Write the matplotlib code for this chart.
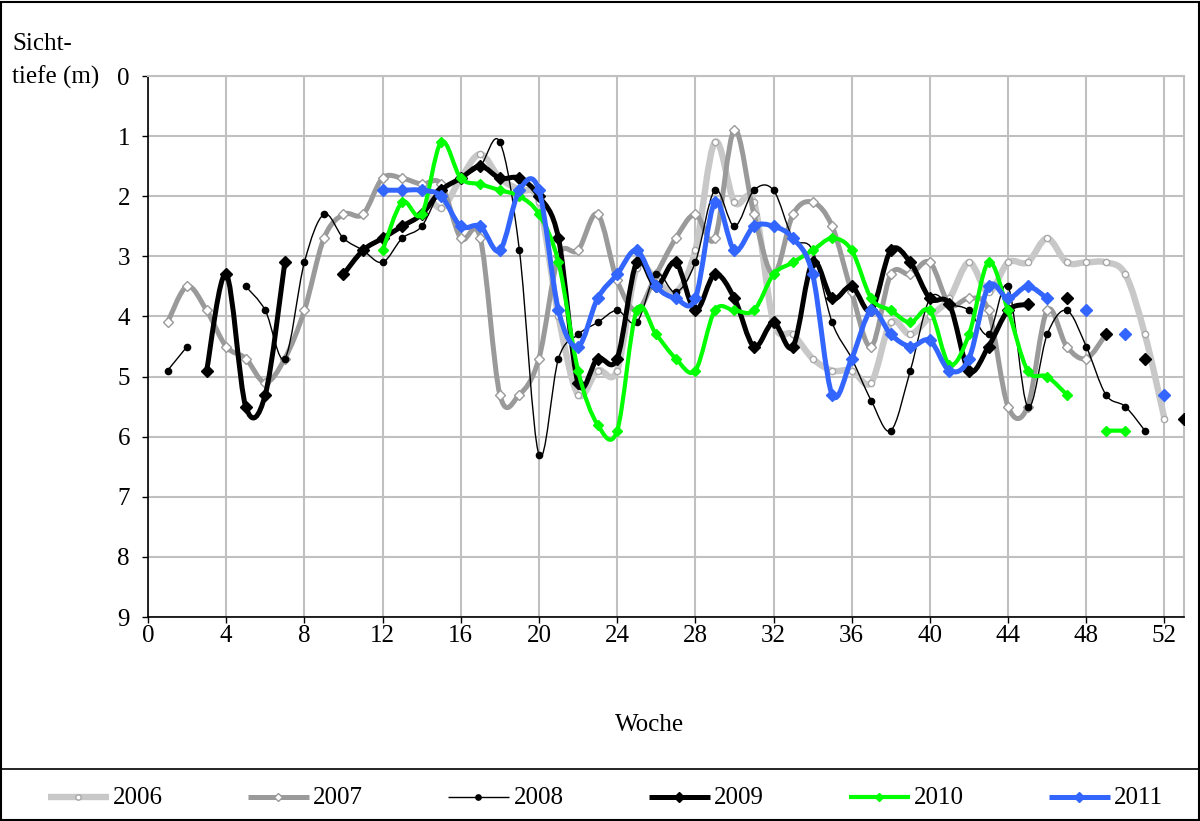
import numpy as np
import matplotlib
matplotlib.use("Agg")
import matplotlib.pyplot as plt
from matplotlib.path import Path
from matplotlib.patches import PathPatch, Rectangle
from matplotlib.lines import Line2D

N = None
weeks = list(range(1, 54))

# Sichttiefe (m) per week 1..53, None = no measurement
d2006 = [N, N, N, N, N, N, N, N, N, N, N, N, N, 1.8, 2.2, 1.7, 1.3, 1.7, 1.9, 2.1,
         4.0, 5.3, 4.9, 4.9, 3.2, 3.4, 3.6, 2.9, 1.1, 2.1, 2.1, 4.1, 4.3, 4.7, 4.9, 4.9,
         5.1, 4.1, 4.3, 4.0, 3.7, 3.1, 3.6, 3.1, 3.1, 2.7, 3.1, 3.1, 3.1, 3.3, 4.3, 5.7, N]
d2007 = [4.1, 3.5, 3.9, 4.5, 4.7, 5.1, 4.7, 3.9, 2.7, 2.3, 2.3, 1.7, 1.7, 1.8, 1.8, 2.7,
         2.7, 5.3, 5.3, 4.7, 3.0, 2.9, 2.3, 3.4, 3.9, 3.3, 2.7, 2.3, 2.7, 0.9, 2.3, 3.3,
         2.3, 2.1, 2.5, 3.6, 4.5, 3.3, 3.3, 3.1, 3.8, 3.7, 3.9, 5.5, 5.5, 3.9, 4.5, 4.7,
         4.3, N, N, N, N]
d2008 = [4.9, 4.5, N, N, 3.5, 3.9, 4.7, 3.1, 2.3, 2.7, 2.9, 3.1, 2.7, 2.5, 1.9, 1.7,
         1.5, 1.1, 2.9, 6.3, 4.7, 4.3, 4.1, 3.9, 4.1, 3.3, 3.6, 3.1, 1.9, 2.5, 1.9, 1.9,
         2.7, 2.9, 4.1, 4.7, 5.4, 5.9, 4.9, 3.7, 3.8, 3.9, 4.3, 3.5, 5.5, 4.3, 3.9, 4.5,
         5.3, 5.5, 5.9, N, N]
d2009 = [N, N, 4.9, 3.3, 5.5, 5.3, 3.1, N, N, 3.3, 2.9, 2.7, 2.5, 2.3, 1.9, 1.7,
         1.5, 1.7, 1.7, 2.0, 2.7, 5.1, 4.7, 4.7, 3.1, 3.5, 3.1, 3.9, 3.3, 3.7, 4.5, 4.1,
         4.5, 3.1, 3.7, 3.5, 3.9, 2.9, 3.1, 3.7, 3.8, 4.9, 4.5, 3.9, 3.8, N, 3.7, N,
         4.3, N, 4.7, N, 5.7]
d2010 = [N, N, N, N, N, N, N, N, N, N, N, 2.9, 2.1, 2.3, 1.1, 1.7, 1.8, 1.9, 2.0, 2.3,
         3.1, 4.9, 5.8, 5.9, 3.9, 4.3, 4.7, 4.9, 3.9, 3.9, 3.9, 3.3, 3.1, 2.9, 2.7, 2.9,
         3.7, 3.9, 4.1, 3.9, 4.8, 4.3, 3.1, 3.9, 4.9, 5.0, 5.3, N, 5.9, 5.9, N, N, N]
d2011 = [N, N, N, N, N, N, N, N, N, N, N, 1.9, 1.9, 1.9, 2.0, 2.5, 2.5, 2.9, 1.9, 1.9,
         3.9, 4.5, 3.7, 3.3, 2.9, 3.5, 3.7, 3.7, 2.1, 2.9, 2.5, 2.5, 2.7, 3.3, 5.3, 4.7,
         3.9, 4.3, 4.5, 4.4, 4.9, 4.7, 3.5, 3.7, 3.5, 3.7, N, 3.9, N, 4.3, N, 5.3, N]

years = ["2006", "2007", "2008", "2009", "2010", "2011"]
series = [d2006, d2007, d2008, d2009, d2010, d2011]

styles = {
    "2006": dict(color="#c8c8c8", lw=4.6, marker="o", ms=4.5, mfc="white", mec="#a8a8a8", mew=1.0),
    "2007": dict(color="#9a9a9a", lw=3.6, marker="D", ms=5.0, mfc="white", mec="#9a9a9a", mew=1.0),
    "2008": dict(color="black", lw=1.0, marker="o", ms=4.5, mfc="black", mec="black", mew=1.0),
    "2009": dict(color="black", lw=3.6, marker="D", ms=6.0, mfc="black", mec="black", mew=1.0),
    "2010": dict(color="#00ff00", lw=3.0, marker="D", ms=5.0, mfc="#00ff00", mec="#00ff00", mew=1.0),
    "2011": dict(color="#3366ff", lw=3.6, marker="D", ms=6.0, mfc="#3366ff", mec="#3366ff", mew=1.0),
}


def runs(xs, ys):
    # split into connected pieces at missing weeks
    out, cur = [], []
    for x, y in zip(xs, ys):
        if y is None:
            if cur:
                out.append(cur)
            cur = []
        else:
            cur.append((x, y))
    if cur:
        out.append(cur)
    return out


def smooth_path(pts):
    # Excel-like smoothed line: cubic bezier, catmull-rom control points
    p = np.array(pts, dtype=float)
    n = len(p)
    verts = [p[0]]
    codes = [Path.MOVETO]
    for i in range(n - 1):
        p0 = p[i - 1] if i > 0 else p[i]
        p3 = p[i + 2] if i + 2 < n else p[i + 1]
        c1 = p[i] + (p[i + 1] - p0) / 6.0
        c2 = p[i + 1] - (p3 - p[i]) / 6.0
        verts += [c1, c2, p[i + 1]]
        codes += [Path.CURVE4] * 3
    return Path(verts, codes)


plt.rcParams["font.family"] = ["Liberation Serif", "DejaVu Serif"]
fig = plt.figure(figsize=(12, 8.21), dpi=100)
ax = fig.add_axes([148 / 1200, 1 - 617 / 821, (1184 - 148) / 1200, (617 - 76) / 821])

for k, (yr, vals) in enumerate(zip(years, series)):
    st = styles[yr]
    for piece in runs(weeks, vals):
        if len(piece) > 1:
            patch = PathPatch(smooth_path(piece), fill=False, edgecolor=st["color"],
                              lw=st["lw"], capstyle="round", joinstyle="round",
                              zorder=3 + k)
            ax.add_patch(patch)
        xs = [q[0] for q in piece]
        ys = [q[1] for q in piece]
        ax.plot(xs, ys, linestyle="none", marker=st["marker"], ms=st["ms"],
                mfc=st["mfc"], mec=st["mec"], mew=st["mew"], zorder=3.5 + k)

ax.set_xlim(0, 53)
ax.set_ylim(9, 0)
ax.set_xticks(range(0, 53, 4))
ax.set_yticks(range(0, 10))
ax.tick_params(axis="both", labelsize=18, direction="out", width=1, color="black")
ax.tick_params(axis="x", length=4, pad=2)
ax.tick_params(axis="y", length=4, pad=9)
ax.grid(True, color="#c0c0c0", lw=1.5)
ax.set_axisbelow(True)
for side in ["top", "right"]:
    ax.spines[side].set_color("#c0c0c0")
    ax.spines[side].set_linewidth(1.5)
for side in ["left", "bottom"]:
    ax.spines[side].set_color("black")
    ax.spines[side].set_linewidth(1.2)

fig.text(12 / 1200, 1 - 44 / 821, "Sicht-", fontsize=18, va="center", ha="left")
fig.text(12 / 1200, 1 - 77 / 821, "tiefe (m)", fontsize=18, va="center", ha="left")
fig.text(650 / 1200, 1 - 725 / 821, "Woche", fontsize=18, va="center", ha="center")

# outer frame and legend separator
fig.patches.append(Rectangle((0.001, 0.001), 0.998, 0.997, transform=fig.transFigure,
                             fill=False, edgecolor="black", lw=1.5))
fig.add_artist(Line2D([0, 1], [1 - 769 / 821] * 2, transform=fig.transFigure,
                      color="black", lw=1.2))

# legend entries laid out like the Excel legend row
ly = 1 - 797 / 821
for i, yr in enumerate(years):
    st = styles[yr]
    x0 = 48 + 200.2 * i
    fig.add_artist(Line2D([x0 / 1200, (x0 + 61) / 1200], [ly, ly], transform=fig.transFigure,
                          color=st["color"], lw=st["lw"], solid_capstyle="butt"))
    fig.add_artist(Line2D([(x0 + 30) / 1200], [ly], transform=fig.transFigure,
                          linestyle="none", marker=st["marker"], ms=st["ms"] * 0.85,
                          mfc=st["mfc"], mec=st["mec"], mew=st["mew"]))
    fig.text((x0 + 65) / 1200, 1 - 798 / 821, yr, fontsize=18, va="center", ha="left")

fig.savefig("out.png", dpi=100)
